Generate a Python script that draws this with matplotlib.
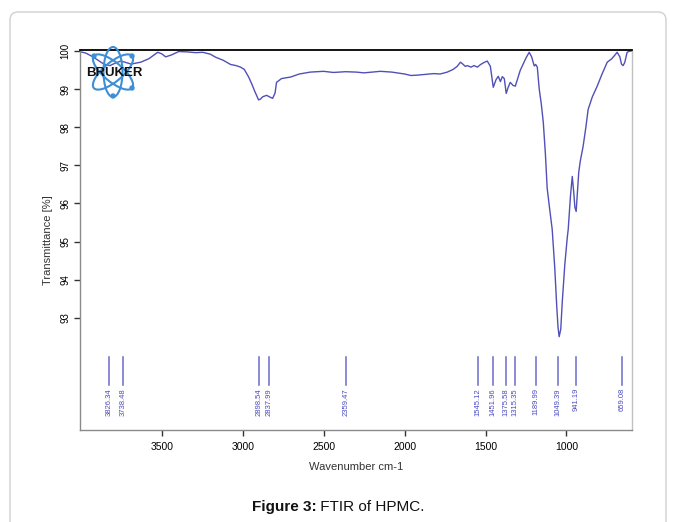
import matplotlib
matplotlib.use('Agg')
import matplotlib.pyplot as plt
from matplotlib.patches import Ellipse, FancyBboxPatch, Circle
from matplotlib.transforms import IdentityTransform

# spectrum (wavenumber cm-1, transmittance %)
wavenumber = [4000, 3970, 3938, 3900, 3858, 3820, 3790, 3753, 3720, 3690, 3630,
              3580, 3525, 3500, 3476, 3440, 3395, 3340, 3290, 3247, 3200, 3167,
              3120, 3075, 3040, 3013, 2990, 2963, 2945, 2926, 2902, 2890, 2877,
              2865, 2852, 2835, 2815, 2800, 2791, 2760, 2704, 2650, 2581, 2500,
              2440, 2365, 2300, 2250, 2149, 2080, 2000, 1960, 1921, 1870, 1820,
              1780, 1736, 1700, 1675, 1655, 1640, 1625, 1612, 1590, 1570, 1550,
              1530, 1510, 1489, 1470, 1452, 1435, 1421, 1408, 1396, 1384, 1372,
              1360, 1347, 1330, 1316, 1300, 1285, 1273, 1250, 1230, 1215, 1199,
              1190, 1180, 1168, 1155, 1143, 1130, 1119, 1105, 1088, 1072, 1060,
              1052, 1045, 1035, 1026, 1010, 995, 989, 975, 964, 955, 948, 940,
              932, 924, 915, 897, 880, 866, 840, 810, 780, 748, 720, 700, 687,
              670, 660, 650, 640, 625, 610, 600]
transmittance = [99.98, 99.95, 99.88, 99.78, 99.66, 99.62, 99.68, 99.74, 99.70,
                 99.66, 99.71, 99.80, 99.97, 99.93, 99.85, 99.90, 99.99, 99.98,
                 99.96, 99.97, 99.92, 99.84, 99.76, 99.65, 99.62, 99.58, 99.52,
                 99.32, 99.15, 98.95, 98.72, 98.74, 98.80, 98.82, 98.84, 98.80,
                 98.76, 98.90, 99.18, 99.28, 99.32, 99.40, 99.45, 99.47, 99.44,
                 99.46, 99.45, 99.43, 99.47, 99.45, 99.40, 99.36, 99.37, 99.39,
                 99.41, 99.40, 99.45, 99.52, 99.60, 99.71, 99.66, 99.60, 99.62,
                 99.58, 99.62, 99.58, 99.65, 99.70, 99.74, 99.60, 99.05, 99.25,
                 99.34, 99.20, 99.33, 99.28, 98.89, 99.05, 99.18, 99.10, 99.08,
                 99.30, 99.50, 99.61, 99.82, 99.97, 99.85, 99.61, 99.65, 99.58,
                 99.00, 98.60, 98.13, 97.30, 96.40, 95.90, 95.32, 94.30, 93.30,
                 92.75, 92.50, 92.70, 93.40, 94.40, 95.10, 95.32, 96.20, 96.71,
                 96.30, 95.90, 95.79, 96.30, 96.82, 97.10, 97.50, 98.00, 98.47,
                 98.80, 99.08, 99.40, 99.71, 99.80, 99.90, 99.97, 99.85, 99.66,
                 99.62, 99.70, 99.97, 100.0, 100.0]

# labelled peaks
peak_pos = [3826.34, 3738.48, 2898.54, 2837.99, 2359.47, 1545.12, 1451.96,
            1375.58, 1315.35, 1189.99, 1049.39, 941.19, 659.08]
peak_labels = ['3826.34', '3738.48', '2898.54', '2837.99', '2359.47', '1545.12',
               '1451.96', '1375.58', '1315.35', '1189.99', '1049.39', '941.19',
               '659.08']
xticks = [3500, 3000, 2500, 2000, 1500, 1000]
yticks = [93, 94, 95, 96, 97, 98, 99, 100]

plt.rcParams['font.family'] = ['Liberation Sans', 'DejaVu Sans']

fig = plt.figure(figsize=(6.76, 5.22), dpi=100)
W, H = 676, 522

# outer rounded frame
frame = FancyBboxPatch((10, -20), 656, 530, boxstyle='round,pad=0,rounding_size=8',
                       transform=IdentityTransform(), facecolor='none',
                       edgecolor='#d0d0d0', linewidth=1.0, zorder=0)
fig.patches.append(frame)

ax = fig.add_axes([80 / W, 1 - 430 / H, 552 / W, 380 / H])
line_col = '#5050b8'
ax.plot(wavenumber, transmittance, color=line_col, lw=1.0)

for p, lab in zip(peak_pos, peak_labels):
    ax.plot([p, p], [91.22, 91.98], color='#6a6acc', lw=1.1)
    ax.text(p, 91.15, lab, rotation=90, ha='center', va='top',
            fontsize=5.5, color='#4a4ac0')

ax.set_xlim(4005, 595)
ax.set_ylim(90.05, 100.03)
ax.set_xticks(xticks)
ax.set_yticks(yticks)
ax.set_yticklabels([str(v) for v in yticks], rotation=90, va='center')
ax.tick_params(axis='both', labelsize=7, length=4, width=1, color='#333333',
               direction='out', pad=3)
ax.tick_params(axis='x', labelsize=7.5, pad=5)

for s in ['left', 'bottom', 'right']:
    ax.spines[s].set_color('#8a8a8a')
    ax.spines[s].set_linewidth(1.0)
ax.spines['right'].set_color('#c0c0c0')
ax.spines['top'].set_color('black')
ax.spines['top'].set_linewidth(1.3)

ax.set_xlabel('Wavenumber cm-1', fontsize=8, color='#333333', labelpad=7)
ax.set_ylabel('Transmittance [%]', fontsize=8, color='#333333', labelpad=5)

# Bruker logo
cx, cy = 113, H - 72
for ang in (40, -40, 90):
    fig.patches.append(Ellipse((cx, cy), 50, 19, angle=ang, transform=IdentityTransform(),
                               facecolor='none', edgecolor='#3d8fd6', lw=1.5, zorder=5))
for dx, dy in ((-19, 16), (19, -16), (0, -24), (19, 16)):
    fig.patches.append(Circle((cx + dx, cy + dy), 2, transform=IdentityTransform(),
                              color='#3d8fd6', zorder=5))
fig.text(114 / W, 1 - 73 / H, 'BRUKER', fontsize=9.5, fontweight='bold',
         color='#111111', ha='center', va='center', zorder=6)

# caption: bold part + regular part, centred as one line
fig.canvas.draw()
r = fig.canvas.get_renderer()
t1 = fig.text(0, 1 - 507 / H, 'Figure 3:', fontsize=11, fontweight='bold',
              color='#111111', va='center')
t2 = fig.text(0, 1 - 507 / H, ' FTIR of HPMC.', fontsize=11, color='#111111',
              va='center')
w1 = t1.get_window_extent(r).width
w2 = t2.get_window_extent(r).width
x0 = 338 - (w1 + w2) / 2
t1.set_x(x0 / W)
t2.set_x((x0 + w1) / W)

fig.savefig('out.png', dpi=100)
plt.close(fig)
